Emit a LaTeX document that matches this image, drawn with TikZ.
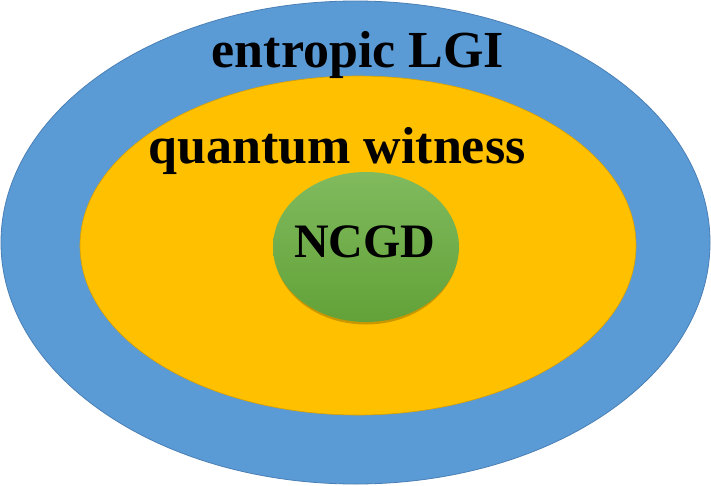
\documentclass[tikz,border=0pt]{standalone}
\usepackage{fontspec}
\setmainfont{Liberation Serif}
\definecolor{outerblue}{HTML}{5B9BD5}
\definecolor{outerline}{HTML}{4A7FB5}
\definecolor{midyellow}{HTML}{FFC000}
\definecolor{midline}{HTML}{D9A000}
\definecolor{greentop}{HTML}{80BA5E}
\definecolor{greenbot}{HTML}{62A238}
\tikzset{
  lbl/.style={anchor=base, inner sep=0pt, font=\bfseries\fontsize{52}{60}\selectfont},
  lblsmall/.style={anchor=base, inner sep=0pt, font=\bfseries\fontsize{48}{56}\selectfont}
}
\begin{document}
\begin{tikzpicture}[x=1pt,y=-1pt]
\useasboundingbox (0,0) rectangle (711,485);
\fill[white] (0,0) rectangle (711,485);
% outer
\filldraw[fill=outerblue, draw=outerline, line width=0.8pt] (355.5,242.5) ellipse [x radius=354.5, y radius=241.5];
% middle
\filldraw[fill=midyellow, draw=midline, line width=0.6pt] (358,245.5) ellipse [x radius=278, y radius=169.5];
% shadow of green
\fill[black!60!midyellow, opacity=0.35] (366,249.5) ellipse [x radius=92, y radius=75];
% inner
\shade[top color=greentop, bottom color=greenbot] (366,247) ellipse [x radius=93, y radius=75];
\node[lbl] (entropic) at (358,67) {entropic LGI};
\node[lbl] (quantum) at (337,163) {quantum witness};
\node[lblsmall] (ncgd) at (365,257) {NCGD};
\end{tikzpicture}
\end{document}
